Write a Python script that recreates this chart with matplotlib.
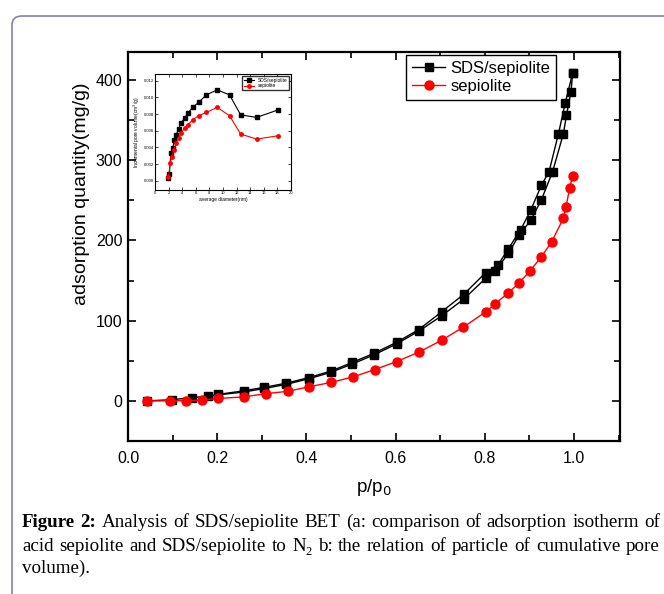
import numpy as np
import matplotlib
matplotlib.use("Agg")
import matplotlib.pyplot as plt
from matplotlib.patches import FancyBboxPatch
from matplotlib.ticker import MultipleLocator, FormatStrFormatter

plt.rcParams['font.family'] = ['Liberation Sans', 'DejaVu Sans']

# main isotherm: SDS/sepiolite adsorption branch
sds_ads_p = [0.043, 0.098, 0.143, 0.180, 0.201, 0.259, 0.306, 0.354, 0.405, 0.454,
             0.503, 0.552, 0.602, 0.652, 0.703, 0.753, 0.802, 0.823, 0.853, 0.877,
             0.903, 0.927, 0.952, 0.976, 0.983, 0.993, 0.997]
sds_ads_q = [0, 1.5, 4, 6, 7.5, 11, 15.5, 20.5, 27.5, 35.5,
             46, 57.5, 71, 87, 106, 127, 153, 162, 184, 207,
             225, 251, 286, 333, 356, 385, 409]
# SDS/sepiolite desorption branch
sds_des_p = [0.997, 0.980, 0.965, 0.944, 0.927, 0.903, 0.880, 0.853, 0.829, 0.802,
             0.753, 0.703, 0.652, 0.602, 0.552, 0.503, 0.454, 0.405, 0.354, 0.306,
             0.259, 0.201]
sds_des_q = [409, 371, 333, 286, 269, 238, 213, 190, 169, 160,
             133, 111, 89, 73, 59.5, 48, 37, 29, 22, 17,
             12.5, 8]
# sepiolite
sep_p = [0.043, 0.094, 0.130, 0.166, 0.201, 0.260, 0.309, 0.359, 0.405, 0.455,
         0.505, 0.553, 0.602, 0.653, 0.703, 0.752, 0.802, 0.823, 0.851, 0.877,
         0.901, 0.926, 0.950, 0.976, 0.982, 0.990, 0.997]
sep_q = [0, 0, 0.4, 1, 3, 5, 9, 12, 17.5, 23,
         30, 39, 49, 61, 75.6, 92, 111, 121, 134, 147,
         162, 179, 198.5, 227.6, 242, 265, 281]

# inset: pore size distribution
diam = [1.98, 2.12, 2.32, 2.6, 2.86, 3.1, 3.46, 3.8, 4.35, 4.84,
        5.53, 6.42, 7.56, 9.14, 10.96, 12.6, 14.96, 18.1]
sds_pv = [0.0003, 0.00076, 0.0033, 0.0039, 0.0049, 0.0055, 0.0062, 0.0069, 0.0075, 0.0081,
          0.0088, 0.0094, 0.0103, 0.0109, 0.0103, 0.0079, 0.0076, 0.0085]
diam_sep = [1.98, 2.22, 2.47, 2.77, 3.1, 3.46, 3.8, 4.35, 4.84,
            5.53, 6.42, 7.56, 9.14, 10.96, 12.6, 14.96, 18.1]
sep_pv = [0.0004, 0.0021, 0.0029, 0.0037, 0.0045, 0.0051, 0.0057, 0.0063, 0.0067,
          0.0073, 0.0078, 0.0082, 0.0088, 0.0078, 0.0056, 0.0050, 0.0054]

W, H = 664, 594
fig = plt.figure(figsize=(W / 100, H / 100), dpi=100)

# rounded panel border
border = FancyBboxPatch((12 / W, -0.1), 1.2, 1 - 16 / H + 0.1,
                        boxstyle="round,pad=0,rounding_size=0.015",
                        transform=fig.transFigure, fill=False,
                        edgecolor='#8080b0', linewidth=1.2, clip_on=False)
fig.patches.append(border)

ax = fig.add_axes([128 / W, 1 - 441 / H, 492 / W, 389 / H])
ax.plot(sds_ads_p, sds_ads_q, '-s', color='black', ms=6, lw=1, label='SDS/sepiolite')
ax.plot(sds_des_p, sds_des_q, '-s', color='black', ms=6, lw=1)
ax.plot(sep_p, sep_q, '-o', color='red', ms=6.5, lw=1, label='sepiolite')
ax.set_xlim(0, 1.103)
ax.set_ylim(-50, 435)
ax.xaxis.set_minor_locator(MultipleLocator(0.1))
ax.yaxis.set_major_locator(MultipleLocator(100))
ax.yaxis.set_minor_locator(MultipleLocator(50))
ax.set_xticks([0.0, 0.2, 0.4, 0.6, 0.8, 1.0])
ax.set_xticklabels(['0.0', '0.2', '0.4', '0.6', '0.8', '1.0'])
ax.tick_params(which='both', direction='in', top=True, right=True, labelsize=11.5)
ax.tick_params(which='major', length=6, width=1.2)
ax.tick_params(which='minor', length=4, width=1.2)
ax.tick_params(axis='x', pad=7)
ax.tick_params(axis='y', pad=4)
for s in ax.spines.values():
    s.set_linewidth(1.6)
ax.set_xlabel('p/p$_0$', fontsize=13.5, labelpad=8)
ax.set_ylabel('adsorption quantity(mg/g)', fontsize=14)
ax.yaxis.set_label_coords(-0.078, 0.635)
leg = ax.legend(loc='upper right', bbox_to_anchor=(0.870, 0.992), fontsize=12,
                frameon=True, fancybox=False, edgecolor='black', framealpha=1,
                handlelength=2.0, borderpad=0.35, labelspacing=0.2,
                handletextpad=0.3, borderaxespad=0)
leg.get_frame().set_linewidth(1.0)

# inset
ins = fig.add_axes([155 / W, 1 - 190 / H, 136 / W, 116 / H])
ins.plot(diam, sds_pv, '-s', color='black', ms=2.5, lw=0.8, label='SDS/sepiolite')
ins.plot(diam_sep, sep_pv, '-o', color='red', ms=2.5, lw=0.8, label='sepiolite')
ins.set_xlim(0, 20)
ins.set_ylim(-0.0011, 0.0128)
ins.xaxis.set_major_locator(MultipleLocator(2))
ins.yaxis.set_major_locator(MultipleLocator(0.002))
ins.yaxis.set_major_formatter(FormatStrFormatter('%.3f'))
ins.tick_params(direction='in', top=True, right=True, labelsize=3, length=2, width=0.5, pad=1)
for s in ins.spines.values():
    s.set_linewidth(0.8)
ins.set_xlabel('average diameter(nm)', fontsize=3.5, labelpad=1)
ins.set_ylabel('Incremental pore volume(cm$^3$/g)', fontsize=3.5, labelpad=1)
ins.legend(loc='upper right', fontsize=3.5, frameon=True, fancybox=False,
           edgecolor='black', handlelength=2, borderpad=0.3, labelspacing=0.1)

# caption, justified like the journal page
renderer = fig.canvas.get_renderer()
serif = ['Liberation Serif', 'DejaVu Serif']
cap_size = 13.7


def draw_word(pieces, x, y, measure_only=False):
    """pieces: list of (text, weight, size, dy_px). Returns width in px."""
    cx = x
    for text, weight, size, dy in pieces:
        t = fig.text(cx / W, 1 - (y + dy) / H, text, fontsize=size, family=serif,
                     fontweight=weight, va='baseline', ha='left')
        w = t.get_window_extent(renderer).width
        if measure_only:
            t.remove()
        cx += w
    return cx - x


def caption_line(words, y, x0=22, x1=660, justify=True):
    widths = [draw_word(wd, 0, y, measure_only=True) for wd in words]
    space = draw_word([(' ', 'normal', cap_size, 0)], 0, y, measure_only=True)
    if justify and len(words) > 1:
        gap = (x1 - x0 - sum(widths)) / (len(words) - 1)
    else:
        gap = space
    x = x0
    for wd, w in zip(words, widths):
        draw_word(wd, x, y)
        x += w + gap


def plain(s):
    return [[(w, 'normal', cap_size, 0)] for w in s.split()]


line1 = [[('Figure', 'bold', cap_size, 0)], [('2:', 'bold', cap_size, 0)]] + \
    plain('Analysis of SDS/sepiolite BET (a: comparison of adsorption isotherm of')
line2 = plain('acid sepiolite and SDS/sepiolite to') + \
    [[('N', 'normal', cap_size, 0), ('2', 'normal', 9, 4)]] + \
    plain('b: the relation of particle of cumulative pore')
line3 = plain('volume).')

caption_line(line1, 527)
caption_line(line2, 551)
caption_line(line3, 573, justify=False)

fig.savefig('out.png', dpi=100)
